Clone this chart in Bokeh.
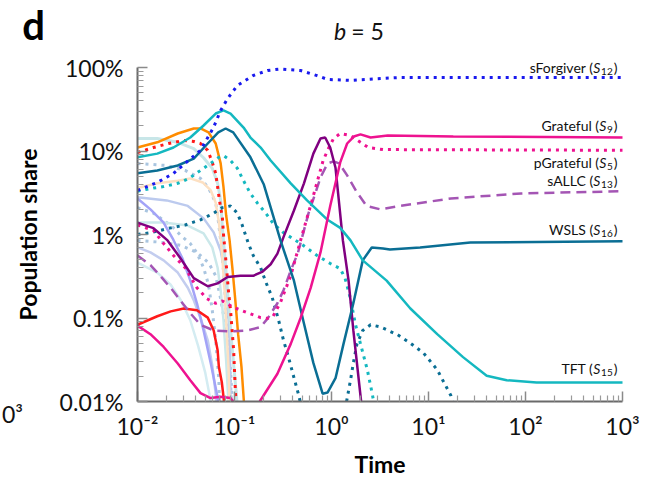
from bokeh.plotting import figure
from bokeh.models import Label, FixedTicker, CustomJSTickFormatter, Range1d
from bokeh.embed import file_html
from bokeh.resources import INLINE

nan = float("nan")

# ---------------- data (time, population share in %) ----------------
sforgiver_t = [0.01, 0.016, 0.0235, 0.031, 0.0446, 0.0607, 0.072, 0.085, 0.107, 0.156, 0.219, 0.298, 0.48, 0.71, 0.91, 1.57, 3.4, 5.1, 20, 1000]
sforgiver_y = [3.37, 4.2, 5.4, 7.1, 10.2, 19.1, 30.6, 42.5, 60.9, 80.2, 92, 96, 92, 80, 72, 70, 74, 76, 76, 76]

tft_t = [0.01, 0.016, 0.0235, 0.035, 0.048, 0.064, 0.077, 0.091, 0.124, 0.146, 0.186, 0.236, 0.38, 0.56, 0.91, 1.23, 1.57, 2.1, 3.7, 6.5, 12.3, 22.7, 39.8, 64, 130, 1000]
tft_y = [8.4, 9.3, 11.0, 14.5, 20.2, 28.1, 30.6, 28.1, 19.1, 14.5, 11.0, 7.7, 4.1, 2.56, 1.5, 1.2, 0.85, 0.49, 0.28, 0.13, 0.064, 0.034, 0.0203, 0.018, 0.0169, 0.0169]

wsls_t = [0.01, 0.016, 0.026, 0.038, 0.053, 0.068, 0.081, 0.097, 0.146, 0.2, 0.298, 0.41, 0.52, 0.65, 0.81, 0.91, 1.1, 1.33, 1.68, 2.1, 2.6, 3.4, 4.0, 8.2, 27, 1000]
wsls_y = [5.4, 5.85, 6.7, 8.1, 12.3, 16.7, 18.6, 16.7, 8.4, 4.0, 0.85, 0.28, 0.086, 0.029, 0.0124, 0.0128, 0.019, 0.049, 0.15, 0.49, 0.70, 0.68, 0.66, 0.70, 0.80, 0.83]

grateful_t = [0.01, 0.0136, 0.0186, 0.026, 0.035, 0.0446, 0.0566, 0.072, 0.091, 0.097, nan, 0.182, 0.277, 0.38, 0.48, 0.61, 0.77, 0.97, 1.23, 1.45, 1.7, 1.99, 2.53, 3.8, 18, 1000]
grateful_y = [0.081, 0.064, 0.045, 0.0285, 0.018, 0.0126, 0.011, 0.0114, 0.011, 0.01, nan, 0.01, 0.0215, 0.049, 0.10, 0.23, 0.61, 2.2, 7.3, 12.3, 14.9, 15.8, 14.5, 15.3, 14.9, 14.5]

pgrateful_t = [0.01, 0.0146, 0.0186, 0.0235, 0.031, 0.041, 0.052, 0.064, 0.075, 0.098, 0.146, 0.186, 0.22, 0.25, 0.298, 0.38, 0.48, 0.63, 0.82, 0.93, 1.05, 1.23, 1.57, 1.99, 2.4, 3.4, 1000]
pgrateful_y = [1.3, 1.12, 0.78, 0.56, 0.40, 0.23, 0.17, 0.15, 0.16, 0.134, 0.112, 0.101, 0.099, 0.105, 0.154, 0.32, 0.85, 2.56, 7.7, 10.7, 14.1, 16.2, 15.3, 12.7, 11.0, 10.4, 10.2]

sallc_t = [0.01, 0.0136, 0.018, 0.023, 0.035, 0.0446, 0.061, 0.091, 0.136, 0.186, 0.22, 0.277, 0.32, 0.38, 0.45, 0.58, 0.68, 0.77, 0.91, 1.05, 1.2, 1.45, 1.83, 2.3, 3.2, 5.1, 17, 90, 1000]
sallc_y = [0.56, 0.43, 0.30, 0.215, 0.114, 0.083, 0.071, 0.069, 0.071, 0.078, 0.099, 0.15, 0.215, 0.37, 0.6, 1.8, 3.1, 4.8, 7.1, 7.5, 7.1, 5.1, 3.2, 2.2, 2.0, 2.2, 2.7, 3.1, 3.3]

purple_t = [0.01, 0.0146, 0.0204, 0.0277, 0.038, 0.053, 0.067, 0.085, 0.115, 0.156, 0.195, 0.236, 0.277, 0.32, 0.41, 0.52, 0.65, 0.77, 0.86, 0.97, 1.1, 1.17, 1.31, 1.5, 1.68, 2.02]
purple_y = [1.39, 1.19, 0.85, 0.52, 0.30, 0.24, 0.26, 0.31, 0.32, 0.32, 0.36, 0.44, 0.59, 0.93, 1.94, 4.1, 9.3, 14.1, 14.5, 11.0, 6.3, 3.1, 0.85, 0.28, 0.071, 0.01]

orange_t = [0.01, 0.016, 0.026, 0.038, 0.0446, 0.054, 0.064, 0.072, 0.077, 0.082, 0.089, 0.095, 0.102, 0.109, 0.118, 0.125]
orange_y = [11.0, 12.7, 16.2, 18.6, 18.6, 16.7, 12.3, 7.1, 3.7, 1.7, 0.85, 0.40, 0.163, 0.064, 0.026, 0.01]

reddot_t = [0.01, 0.0146, 0.021, 0.03, 0.038, 0.0446, 0.053, 0.059, 0.064, 0.067, 0.070, 0.075, 0.077, 0.081, 0.087, 0.091, 0.098, 0.102, 0.104]
reddot_y = [9.6, 11.0, 12.3, 13.4, 13.0, 12.3, 10.2, 7.3, 5.4, 3.7, 2.56, 1.6, 1.0, 0.53, 0.2, 0.124, 0.041, 0.0137, 0.01]

red_t = [0.01, 0.016, 0.022, 0.03, 0.041, 0.053, 0.061, 0.067, 0.069, 0.074, 0.078]
red_y = [0.083, 0.105, 0.12, 0.13, 0.124, 0.101, 0.071, 0.041, 0.026, 0.017, 0.01]

cyandot_t = [0.01, 0.0146, 0.0186, 0.026, 0.034, 0.0446, 0.0566, 0.069, 0.077, 0.091, 0.107, 0.124, 0.146, 0.173, 0.21, 0.25, 0.32, 0.48, 0.71, 0.97, 1.23, 1.38, 1.57, 1.76, 1.99, 2.34, 2.63, 2.72]
cyandot_y = [3.3, 3.6, 3.75, 4.1, 4.7, 5.85, 7.1, 8.4, 8.8, 7.7, 6.2, 4.4, 3.1, 2.36, 1.8, 1.36, 1.05, 0.78, 0.56, 0.45, 0.39, 0.30, 0.17, 0.085, 0.049, 0.024, 0.0124, 0.01]

tealdot1_t = [0.01, 0.0136, 0.022, 0.031, 0.0446, 0.061, 0.075, 0.091, 0.107, 0.12, 0.139, 0.156, 0.186, 0.21, 0.245, 0.285, 0.32, 0.36, 0.41, 0.46, 0.475]
tealdot1_y = [1.0, 1.05, 1.2, 1.3, 1.5, 1.8, 2.1, 2.2, 1.8, 1.3, 0.78, 0.56, 0.40, 0.27, 0.175, 0.094, 0.054, 0.034, 0.0193, 0.0118, 0.01]

tealdot2_t = [1.43, 1.57, 1.68, 1.83, 2.1, 2.53, 3.2, 4.8, 6.5, 8.9, 12.3, 17, 17.6]
tealdot2_y = [0.01, 0.018, 0.029, 0.049, 0.071, 0.083, 0.078, 0.063, 0.05, 0.038, 0.024, 0.0118, 0.01]

lightcyan1_t = [0.01, 0.016, 0.026, 0.038, 0.048, 0.059, 0.067, 0.072, 0.075, 0.08, 0.087, 0.095, 0.105, 0.106]
lightcyan1_y = [14.1, 14.1, 12.7, 10.7, 8.3, 6.2, 4.1, 2.56, 1.2, 0.5, 0.14, 0.041, 0.0116, 0.01]

lightcyan2_t = [0.01, 0.0186, 0.033, 0.048, 0.059, 0.067, 0.072, 0.077, 0.082, 0.0865]
lightcyan2_y = [1.39, 1.39, 1.28, 1.03, 0.7, 0.4, 0.215, 0.094, 0.031, 0.01]

palecyan_t = [0.01, 0.016, 0.022, 0.028, 0.035, 0.042, 0.05, 0.055, 0.0565]
palecyan_y = [0.46, 0.35, 0.25, 0.163, 0.094, 0.047, 0.022, 0.0124, 0.01]

peach_t = [0.01, 0.016, 0.026, 0.035, 0.047, 0.057, 0.064, 0.069, 0.074, 0.079, 0.083, 0.087, 0.0888]
peach_y = [3.6, 4.1, 4.4, 4.7, 4.2, 3.37, 2.4, 1.4, 0.64, 0.215, 0.071, 0.024, 0.01]

lavender1_t = [0.01, 0.02, 0.033, 0.048, 0.061, 0.072, 0.079, 0.085, 0.089, 0.0909]
lavender1_y = [2.8, 2.56, 2.2, 1.56, 1.06, 0.64, 0.37, 0.163, 0.054, 0.01]

lavender2_t = [0.01, 0.0136, 0.0186, 0.026, 0.033, 0.038, 0.0446, 0.053, 0.059, 0.064, 0.0647]
lavender2_y = [0.70, 0.61, 0.49, 0.35, 0.23, 0.163, 0.1, 0.054, 0.027, 0.0124, 0.01]

violet_t = [0.01, 0.0136, 0.0185, 0.023, 0.029, 0.035, 0.041, 0.048, 0.057, 0.067, 0.0677]
violet_y = [2.7, 2.0, 1.4, 0.9, 0.52, 0.28, 0.15, 0.071, 0.0285, 0.0112, 0.01]

ltbluedot1_t = [0.01, 0.02, 0.031, 0.0446, 0.054, 0.064, 0.067, 0.072, 0.077, 0.082, 0.089, 0.0928]
ltbluedot1_y = [7.1, 6.7, 5.85, 4.7, 3.6, 2.4, 1.7, 0.85, 0.37, 0.124, 0.031, 0.01]

ltbluedot2_t = [0.01, 0.0146, 0.0186, 0.0235, 0.028, 0.035, 0.041, 0.048, 0.054, 0.059, 0.064, 0.069, 0.0699]
ltbluedot2_y = [2.1, 1.8, 1.48, 1.2, 0.97, 0.78, 0.6, 0.40, 0.25, 0.124, 0.054, 0.018, 0.01]

ltbluedot3_t = [0.01, 0.017, 0.028, 0.041, 0.054, 0.064, 0.072, 0.077, 0.085, 0.091, 0.0947]
ltbluedot3_y = [0.85, 0.81, 0.74, 0.61, 0.46, 0.32, 0.17, 0.11, 0.059, 0.024, 0.01]

y_ticks = [0.01, 0.1, 1, 10, 100]
x_ticks = [0.01, 0.1, 1, 10, 100, 1000]

label_names = ["sForgiver", "Grateful", "pGrateful", "sALLC", "WSLS", "TFT"]
label_subs = ["12", "9", "5", "13", "16", "15"]
label_y = [100, 20.2, 7.3, 4.4, 1.16, 0.025]

FONT = "Lato"

# ---------------- geometry ----------------
W, H = 652, 479
FRAME_L, FRAME_R, FRAME_T, FRAME_B = 137, 622, 67, 401   # where the axes sit (px)
PX_DEC_X = (FRAME_R - FRAME_L) / 5.0
PX_DEC_Y = (FRAME_B - FRAME_T) / 4.0
# the plotting frame spans the whole canvas; axes are pinned and bounded to the data area
x_lo = 10 ** (-2 - FRAME_L / PX_DEC_X)
x_hi = 10 ** (3 + (W - FRAME_R) / PX_DEC_X)
y_lo = 0.01 * 10 ** (-(H - FRAME_B) / PX_DEC_Y)
y_hi = 100 * 10 ** (FRAME_T / PX_DEC_Y)

p = figure(width=W, height=H, x_axis_type="log", y_axis_type="log",
           x_range=Range1d(x_lo, x_hi), y_range=Range1d(y_lo, y_hi),
           output_backend="svg", toolbar_location=None,
           min_border_left=0, min_border_right=0, min_border_top=0, min_border_bottom=0)
p.outline_line_color = None
p.xgrid.visible = False
p.ygrid.visible = False
p.background_fill_color = "white"
p.border_fill_color = "white"

DOT = "3 5"
DASH = "10 6"
series = [
    (palecyan_t, palecyan_y, "#d4ecf2", "solid", 2.5),
    (lavender2_t, lavender2_y, "#c3cdef", "solid", 2.5),
    (ltbluedot3_t, ltbluedot3_y, "#a9c5e0", DOT, 3),
    (ltbluedot2_t, ltbluedot2_y, "#a9c5e0", DOT, 3),
    (ltbluedot1_t, ltbluedot1_y, "#a9c5e0", DOT, 3),
    (lightcyan2_t, lightcyan2_y, "#cbe8ea", "solid", 2.5),
    (lavender1_t, lavender1_y, "#bccaee", "solid", 2.5),
    (violet_t, violet_y, "#a3a3f7", "solid", 2.5),
    (peach_t, peach_y, "#fde0c2", "solid", 2.5),
    (lightcyan1_t, lightcyan1_y, "#c8e6e8", "solid", 3),
    (red_t, red_y, "#ff1a1a", "solid", 2.5),
    (reddot_t, reddot_y, "#ff1a1a", DOT, 3),
    (orange_t, orange_y, "#ff8c00", "solid", 2.5),
    (tealdot1_t, tealdot1_y, "#0a6e94", DOT, 3),
    (tealdot2_t, tealdot2_y, "#0a6e94", DOT, 3),
    (cyandot_t, cyandot_y, "#14b8c0", DOT, 3),
    (sallc_t, sallc_y, "#a455b4", DASH, 2.5),
    (pgrateful_t, pgrateful_y, "#ee1290", DOT, 3),
    (purple_t, purple_y, "#800080", "solid", 2.5),
    (wsls_t, wsls_y, "#0a6e94", "solid", 2.5),
    (tft_t, tft_y, "#14b8c0", "solid", 2.5),
    (grateful_t, grateful_y, "#ee1290", "solid", 2.5),
    (sforgiver_t, sforgiver_y, "#1a1aee", DOT, 3),
]
for t, y, c, d, w in series:
    p.line(t, y, line_color=c, line_dash=d, line_width=w)

# ---------------- axes ----------------
minor_y = [k * 10.0 ** e for e in range(-2, 2) for k in range(2, 10)]
minor_x = [k * 10.0 ** e for e in range(-2, 3) for k in range(2, 10)]
p.yaxis.ticker = FixedTicker(ticks=y_ticks, minor_ticks=minor_y)
p.xaxis.ticker = FixedTicker(ticks=x_ticks, minor_ticks=minor_x)
p.yaxis.bounds = (0.01, 100)
p.xaxis.bounds = (0.01, 1000)
p.yaxis.fixed_location = 0.01
p.xaxis.fixed_location = 0.01
p.yaxis.formatter = CustomJSTickFormatter(code="""
const e = Math.round(Math.log10(tick));
const m = {'-2':'0.01%','-1':'0.1%','0':'1%','1':'10%','2':'100%'};
return m[String(e)];
""")
p.xaxis.formatter = CustomJSTickFormatter(code="""
const e = Math.round(Math.log10(tick));
const sup = {'-':'\u207b','0':'\u2070','1':'\u00b9','2':'\u00b2','3':'\u00b3'};
return '10' + String(e).split('').map(c => sup[c]).join('');
""")
for ax in (p.xaxis[0], p.yaxis[0]):
    ax.axis_line_color = "#6a6a6a"
    ax.axis_line_width = 2
    ax.major_tick_line_color = "#8a8a8a"
    ax.minor_tick_line_color = "#9a9a9a"
    ax.major_tick_line_width = 1.5
    ax.minor_tick_line_width = 1.2
    ax.major_tick_in = 10
    ax.major_tick_out = 0
    ax.minor_tick_in = 6
    ax.minor_tick_out = 0
    ax.major_label_text_font = FONT
    ax.major_label_text_font_size = "23px"
    ax.major_label_text_color = "#111111"
    ax.axis_label_text_font = FONT
    ax.axis_label_text_font_style = "bold"
    ax.axis_label_text_font_size = "23px"
    ax.axis_label_text_color = "#000000"

p.xaxis.axis_label = "Time"
p.xaxis.major_label_standoff = 10
p.xaxis.axis_label_standoff = 7
p.yaxis.axis_label = "Population share"
p.yaxis.major_label_standoff = 14
p.yaxis.axis_label_standoff = 15

# ---------------- annotations ----------------
W_PAREN = 4.8      # width of ")" at 14px
W_DIGIT = 5.9      # width of a digit at 10px
W_S = 7.2          # width of italic "S" at 14px
for name, sub, yv in zip(label_names, label_subs, label_y):
    r = -5.0
    common = dict(x=1000, y=yv, text_align="right", text_baseline="middle",
                  text_font=FONT, text_color="#111111")
    p.add_layout(Label(x_offset=r, text=")", text_font_size="14px", **common))
    r -= W_PAREN
    p.add_layout(Label(x_offset=r, y_offset=-4, text=sub, text_font_size="10px", **common))
    r -= W_DIGIT * len(sub) + 0.5
    p.add_layout(Label(x_offset=r, text="S", text_font_size="14px", text_font_style="italic", **common))
    r -= W_S
    p.add_layout(Label(x_offset=r, text=name + " (", text_font_size="14px", **common))

# title "b = 5", panel letter "d" and the visible edge of the neighbouring panel's tick label
p.add_layout(Label(x=1.06, y=277, text="b", text_font=FONT, text_font_style="italic",
                   text_font_size="23px", text_baseline="middle", text_align="left",
                   text_color="#111111"))
p.add_layout(Label(x=1.60, y=277, text="= 5", text_font=FONT, text_font_size="23px",
                   text_baseline="middle", text_align="left", text_color="#111111"))
p.add_layout(Label(x=0.00065, y=327, text="d", text_font=FONT, text_font_style="bold",
                   text_font_size="40px", text_baseline="middle", text_align="left",
                   text_color="#000000"))
p.add_layout(Label(x=0.0004, y=0.0071, text="0\u00b3", text_font=FONT,
                   text_font_size="23px", text_baseline="middle", text_align="left",
                   text_color="#111111"))

open("out.html", "w").write(file_html(p, INLINE))
